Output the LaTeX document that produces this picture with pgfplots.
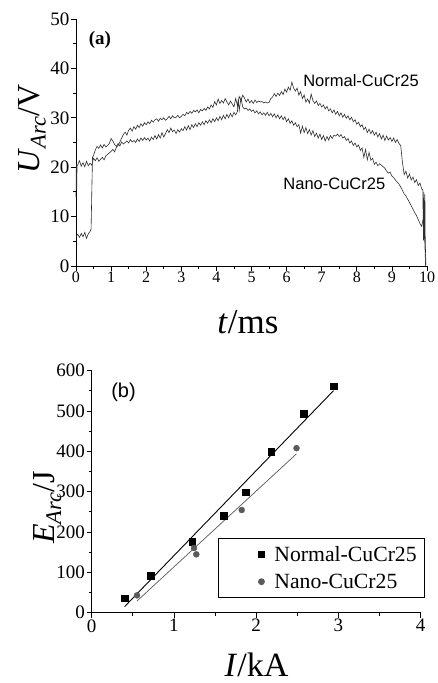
\documentclass[border=0pt]{standalone}
\usepackage{pgfplots}
\pgfplotsset{compat=1.18}
\usepackage{fontspec}
\setmainfont{Liberation Serif}
\newfontfamily\arial{Liberation Sans}
\definecolor{trace}{HTML}{2E2E2E}
\definecolor{nanogray}{HTML}{5A5A5A}
\begin{document}
\begin{tikzpicture}
\useasboundingbox (0pt,0pt) rectangle (438pt,683pt);
% ---------------- (a) ----------------
\begin{axis}[
  at={(76pt,417pt)}, anchor=south west,
  scale only axis, width=351pt, height=247pt,
  xmin=0, xmax=10, ymin=0, ymax=50,
  axis lines=left, axis line style={-, line width=0.9pt, black},
  tick align=outside,
  xtick={0,1,...,10}, ytick={0,10,...,50},
  minor x tick num=1, minor y tick num=1,
  major tick length=5pt, minor tick length=3pt,
  every tick/.style={black, line width=0.8pt},
  /pgf/number format/assume math mode=true,
  xticklabel style={font=\fontsize{16}{16}\selectfont, inner sep=1pt},
  yticklabel style={font=\fontsize{19}{19}\selectfont, inner sep=1.5pt},
  xlabel={\textit{t}/ms},
  xlabel style={at={(axis description cs:0.49,-0.272)}, anchor=base, font=\fontsize{35}{35}\selectfont},
  ylabel={\textit{U}\textsubscript{\textit{Arc}}/V},
  ylabel style={at={(axis description cs:-0.125,0.555)}, anchor=center, font=\fontsize{32}{32}\selectfont},
  clip=false,
]
\addplot[color=trace, line width=0.6pt] coordinates {
(0,14) (0.01,20.6) (0.02,15.5) (0.03,20.3) (0.05,20.5) (0.1,21.3) (0.15,20.2) (0.2,20.9) (0.25,20.1) (0.3,21.2) (0.35,20.3) (0.4,20.8) (0.45,20.4)
(0.5,21.8) (0.55,21.3) (0.6,21.9) (0.65,21.2) (0.7,21.6) (0.75,22.0) (0.8,21.5) (0.85,22.3) (0.9,22.6) (0.95,22.9)
(1.0,23.2) (1.05,23.6) (1.1,23.1) (1.15,24.0) (1.2,24.4) (1.25,25.1) (1.3,25.9) (1.35,26.6) (1.4,27.1) (1.45,26.5)
(1.5,27.5) (1.55,27.9) (1.6,27.3) (1.65,28.2) (1.7,27.7) (1.75,28.5) (1.8,28.0) (1.85,28.8) (1.9,28.3) (1.95,29.0)
(2.0,28.6) (2.05,29.2) (2.1,28.8) (2.15,29.5) (2.2,29.1) (2.25,29.6) (2.3,29.8) (2.35,29.3) (2.4,29.9) (2.45,29.6)
(2.5,30.0) (2.55,29.5) (2.6,29.8) (2.65,30.3) (2.7,29.8) (2.75,30.4) (2.8,30.0) (2.85,30.1) (2.9,30.5) (2.95,30.0)
(3.0,30.3) (3.05,30.7) (3.1,30.4) (3.15,31.1) (3.2,30.8) (3.25,31.3) (3.3,30.9) (3.35,31.5) (3.4,31.2) (3.45,31.6)
(3.5,31.0) (3.55,31.7) (3.6,31.4) (3.65,31.9) (3.7,31.5) (3.75,32.2) (3.8,31.8) (3.85,32.6) (3.9,32.1) (3.95,33.3)
(4.0,32.6) (4.05,33.8) (4.1,32.9) (4.15,33.5) (4.2,33.0) (4.25,33.9) (4.3,33.2) (4.35,32.6) (4.4,33.4) (4.45,32.8)
(4.5,32.2) (4.55,33.9) (4.6,32.4) (4.65,34.3) (4.7,33.5) (4.75,34.6) (4.8,34.0) (4.85,33.2) (4.9,33.8) (4.95,33.0)
(5.0,33.5) (5.05,32.9) (5.1,33.6) (5.15,33.1) (5.2,33.4) (5.25,33.2) (5.3,33.3) (5.35,33.0) (5.4,33.2) (5.45,33.0)
(5.5,33.1) (5.55,33.9) (5.6,34.2) (5.65,34.9) (5.7,34.3) (5.75,35.0) (5.8,34.5) (5.85,35.3) (5.9,34.7) (5.95,35.8)
(6.0,35.2) (6.05,36.2) (6.1,35.6) (6.15,37.2) (6.2,36.0) (6.25,35.4) (6.3,36.0) (6.35,34.6) (6.4,35.3) (6.45,33.9)
(6.5,34.6) (6.55,33.2) (6.6,33.8) (6.65,33.0) (6.7,34.8) (6.75,33.5) (6.8,32.9) (6.85,33.4) (6.9,32.5) (6.95,32.9)
(7.0,32.2) (7.05,32.6) (7.1,31.8) (7.15,32.3) (7.2,31.4) (7.25,31.8) (7.3,31.0) (7.35,31.6) (7.4,30.7) (7.45,31.3)
(7.5,30.4) (7.55,31.0) (7.6,30.1) (7.65,30.7) (7.7,29.9) (7.75,30.4) (7.8,29.6) (7.85,30.1) (7.9,29.2) (7.95,29.6)
(8.0,28.7) (8.05,29.1) (8.1,28.2) (8.15,28.6) (8.2,27.6) (8.25,28.1) (8.3,27.0) (8.35,27.7) (8.4,26.8) (8.45,27.4)
(8.5,26.5) (8.55,27.1) (8.6,26.1) (8.65,26.8) (8.7,25.7) (8.75,26.5) (8.8,25.4) (8.85,26.3) (8.9,25.5) (8.95,26.0)
(9.0,25.2) (9.05,25.9) (9.1,25.0) (9.15,25.6) (9.2,24.8) (9.25,24.4) (9.3,21.0) (9.35,18.5) (9.4,19.2) (9.45,17.8)
(9.5,18.6) (9.55,17.4) (9.6,18.0) (9.65,16.9) (9.7,17.5) (9.75,16.3) (9.8,16.8) (9.85,15.6) (9.88,15.4)
(9.9,5.2) (9.91,15.0) (9.92,5.5) (9.94,14.5) (9.95,4.8) (9.97,0)
};
\addplot[color=trace, line width=0.6pt] coordinates {
(0,6.0) (0.05,6.4) (0.1,5.8) (0.15,6.6) (0.2,5.9) (0.25,6.8) (0.3,5.6) (0.35,6.5) (0.4,7.0) (0.43,7.5)
(0.45,15) (0.47,22.0) (0.5,22.4) (0.55,23.5) (0.6,24.2) (0.65,23.8) (0.7,24.5) (0.75,23.9) (0.8,24.6) (0.85,24.1) (0.9,24.4) (0.95,24.8)
(1.0,25.8) (1.05,25.3) (1.1,24.6) (1.15,24.2) (1.2,24.8) (1.25,24.3) (1.3,25.1) (1.35,24.7) (1.4,25.0) (1.45,25.3)
(1.5,24.9) (1.55,25.6) (1.6,25.1) (1.65,25.4) (1.7,25.0) (1.75,25.7) (1.8,25.2) (1.85,25.9) (1.9,25.4) (1.95,26.0)
(2.0,25.5) (2.05,25.9) (2.1,25.3) (2.15,26.1) (2.2,25.6) (2.25,26.4) (2.3,25.7) (2.35,26.6) (2.4,25.9) (2.45,27.0)
(2.5,26.1) (2.55,26.8) (2.6,27.6) (2.65,27.0) (2.7,27.9) (2.75,27.2) (2.8,27.5) (2.85,26.8) (2.9,27.6) (2.95,27.1)
(3.0,27.8) (3.05,27.4) (3.1,28.2) (3.15,27.5) (3.2,28.4) (3.25,27.6) (3.3,28.6) (3.35,28.0) (3.4,28.8) (3.45,28.2)
(3.5,29.0) (3.55,28.5) (3.6,29.2) (3.65,28.6) (3.7,29.4) (3.75,28.9) (3.8,29.6) (3.85,29.0) (3.9,29.8) (3.95,29.2)
(4.0,30.0) (4.05,29.4) (4.1,30.3) (4.15,29.6) (4.2,30.5) (4.25,29.8) (4.3,30.7) (4.35,30.0) (4.4,30.9) (4.45,30.2)
(4.5,31.1) (4.55,30.6) (4.6,31.3) (4.62,33.8) (4.65,31.5) (4.7,34.0) (4.75,32.2) (4.8,31.8) (4.85,32.0) (4.9,31.5) (4.95,31.8)
(5.0,31.3) (5.05,31.6) (5.1,31.0) (5.15,31.4) (5.2,30.8) (5.25,31.2) (5.3,30.6) (5.35,31.0) (5.4,30.5) (5.45,31.1)
(5.5,30.4) (5.55,30.9) (5.6,30.2) (5.65,30.8) (5.7,30.0) (5.75,30.6) (5.8,29.8) (5.85,30.4) (5.9,29.6) (5.95,30.2)
(6.0,29.2) (6.05,29.8) (6.1,28.9) (6.15,29.4) (6.2,28.5) (6.25,29.0) (6.3,28.2) (6.35,28.6) (6.4,26.9) (6.45,28.3)
(6.5,27.0) (6.55,28.0) (6.6,26.8) (6.65,27.6) (6.7,26.5) (6.75,27.4) (6.8,26.2) (6.85,26.9) (6.9,25.9) (6.95,26.7)
(7.0,25.6) (7.05,26.4) (7.1,25.3) (7.15,26.2) (7.2,25.5) (7.25,26.4) (7.3,25.8) (7.35,26.5) (7.4,26.3) (7.45,26.7)
(7.5,26.2) (7.55,26.6) (7.6,25.9) (7.65,26.2) (7.7,25.4) (7.75,25.8) (7.8,24.9) (7.85,25.3) (7.9,24.4) (7.95,24.9)
(8.0,24.1) (8.05,24.5) (8.1,23.4) (8.15,23.9) (8.2,22.0) (8.25,23.6) (8.3,21.5) (8.35,23.0) (8.4,21.4) (8.45,21.8)
(8.5,20.6) (8.55,21.0) (8.6,20.3) (8.65,20.7) (8.7,20.4) (8.75,20.1) (8.8,19.8) (8.85,19.2) (8.9,18.8) (8.95,19.0)
(9.0,18.2) (9.05,17.9) (9.1,17.4) (9.15,17.0) (9.2,16.6) (9.25,16.0) (9.3,15.3) (9.35,14.6) (9.4,14.2) (9.45,13.5)
(9.5,12.9) (9.55,12.2) (9.6,11.5) (9.65,10.8) (9.7,10.2) (9.75,9.4) (9.8,8.6) (9.85,8.0) (9.88,9.2) (9.92,8.5) (9.96,0)
};
\node[font=\bfseries\fontsize{19}{19}\selectfont] at (axis cs:0.68,45.8) {(a)};
\node[font=\fontsize{16.5}{16.5}\selectfont\arial] at (axis cs:8.12,37.5) {Normal-CuCr25};
\node[font=\fontsize{16.5}{16.5}\selectfont\arial] at (axis cs:7.36,16.7) {Nano-CuCr25};
\end{axis}
% ---------------- (b) ----------------
\begin{axis}[
  at={(91.7pt,70.3pt)}, anchor=south west,
  scale only axis, width=329pt, height=242pt,
  xmin=0, xmax=4, ymin=0, ymax=600,
  axis lines=left, axis line style={-, line width=0.9pt, black},
  tick align=outside,
  xtick={0,1,2,3,4}, ytick={0,100,...,600},
  minor x tick num=1, minor y tick num=1,
  major tick length=5pt, minor tick length=3pt,
  every tick/.style={black, line width=0.8pt},
  /pgf/number format/assume math mode=true,
  xticklabel style={font=\fontsize{19}{19}\selectfont, inner sep=1.5pt},
  yticklabel style={font=\fontsize{19}{19}\selectfont, inner sep=1.5pt},
  xlabel={\textit{I}/kA},
  xlabel style={at={(axis description cs:0.501,-0.2645)}, anchor=base, font=\fontsize{34}{34}\selectfont},
  ylabel={\textit{E}\textsubscript{\textit{Arc}}/J},
  ylabel style={at={(axis description cs:-0.134,0.435)}, anchor=center, font=\fontsize{32}{32}\selectfont},
  clip=false,
  legend style={at={(0.384,0.3074)}, anchor=north west, draw=black, line width=0.8pt,
    font=\fontsize{21.7}{21.7}\selectfont, inner xsep=3pt, inner ysep=2pt,
    nodes={inner ysep=5.5pt, inner xsep=5pt}, row sep=0pt},
  legend cell align=left,
  legend image code/.code={\path[draw=none,fill=none] (0pt,-4pt) rectangle (48pt,4pt); \draw[#1] plot coordinates {(40pt,0pt)};},
]
\addplot[only marks, mark=square*, mark size=3.3pt, color=black]
coordinates {(0.40,35.7) (0.717,91) (1.223,176) (1.605,239.8) (1.872,298.5) (2.184,398.5) (2.58,492.7) (2.94,562)};
\addlegendentry{Normal-CuCr25}
\addplot[only marks, mark=*, mark size=3pt, color=nanogray]
coordinates {(0.551,43) (1.244,160.4) (1.272,144.7) (1.824,254.6) (2.49,408)};
\addlegendentry{Nano-CuCr25}
\addplot[black, line width=0.9pt, forget plot] coordinates {(0.40,15) (2.94,550.5)};
\addplot[nanogray, line width=0.7pt, forget plot] coordinates {(0.551,29) (2.49,394)};
\node[font=\fontsize{20}{20}\selectfont\arial] at (axis cs:0.387,546) {(b)};
\end{axis}
\end{tikzpicture}
\end{document}
